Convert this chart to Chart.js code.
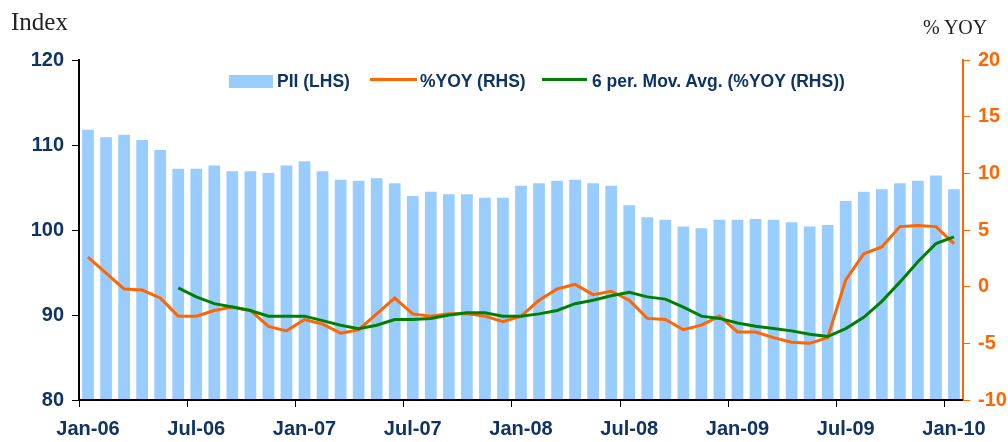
<!DOCTYPE html>
<html>
<head>
<meta charset="utf-8">
<script src="https://cdn.jsdelivr.net/npm/chart.js@4.4.0/dist/chart.umd.min.js"></script>
<style>
  body { margin: 0; background: #fff; }
  #wrap { position: relative; width: 1008px; height: 442px; }
  .ttl { position: absolute; font-family: "Liberation Serif", "Times New Roman", serif; color: #222; line-height: 1; white-space: nowrap; }
  .leg { position: absolute; font: bold 17.5px "Liberation Sans", Arial, sans-serif; color: #0e3364; line-height: 18px; top: 72px; white-space: nowrap; }
  .mark { position: absolute; }
</style>
</head>
<body>
<div id="wrap">
  <canvas id="myChart" width="1008" height="442"></canvas>
  <div class="ttl" style="left:11px;top:9px;font-size:25px;">Index</div>
  <div class="ttl" style="left:923px;top:17px;font-size:20px;">% YOY</div>
  <div class="mark" style="left:229px;top:75px;width:44px;height:13px;background:#99ccff;"></div>
  <div class="leg" style="left:277px;">PII (LHS)</div>
  <div class="mark" style="left:370px;top:78px;width:47px;height:3px;background:#ff6600;"></div>
  <div class="leg" style="left:420px;">%YOY (RHS)</div>
  <div class="mark" style="left:542px;top:78px;width:45px;height:3px;background:#008000;"></div>
  <div class="leg" style="left:592px;">6 per. Mov. Avg. (%YOY (RHS))</div>
</div>
<script>
const months = [
  "Jan-06","Feb-06","Mar-06","Apr-06","May-06","Jun-06","Jul-06","Aug-06","Sep-06","Oct-06","Nov-06","Dec-06",
  "Jan-07","Feb-07","Mar-07","Apr-07","May-07","Jun-07","Jul-07","Aug-07","Sep-07","Oct-07","Nov-07","Dec-07",
  "Jan-08","Feb-08","Mar-08","Apr-08","May-08","Jun-08","Jul-08","Aug-08","Sep-08","Oct-08","Nov-08","Dec-08",
  "Jan-09","Feb-09","Mar-09","Apr-09","May-09","Jun-09","Jul-09","Aug-09","Sep-09","Oct-09","Nov-09","Dec-09",
  "Jan-10"
];

// PII index, left axis
const piiIndex = [
  111.8,110.9,111.2,110.6,109.4,107.2,107.2,107.6,106.9,106.9,106.7,107.6,
  108.1,106.9,105.9,105.8,106.1,105.5,104.0,104.5,104.2,104.2,103.8,103.8,
  105.2,105.5,105.8,105.9,105.5,105.2,102.9,101.5,101.2,100.4,100.2,101.2,
  101.2,101.3,101.2,100.9,100.4,100.6,103.4,104.5,104.8,105.5,105.8,106.4,
  104.8
];

// % YoY, right axis
const yoyPct = [
  2.6,1.2,-0.2,-0.3,-1.0,-2.6,-2.6,-2.1,-1.8,-2.1,-3.5,-3.9,
  -2.9,-3.3,-4.1,-3.8,-2.4,-1.0,-2.4,-2.6,-2.4,-2.4,-2.6,-3.1,
  -2.6,-1.2,-0.2,0.2,-0.7,-0.4,-1.2,-2.8,-2.9,-3.8,-3.4,-2.6,
  -4.0,-4.0,-4.5,-4.9,-5.0,-4.5,0.6,2.9,3.5,5.3,5.4,5.3,
  3.8
];

// 6 period moving average of % YoY
const movAvgPct = [
  null,null,null,null,null,-0.1,-0.9,-1.5,-1.8,-2.1,-2.6,-2.6,
  -2.6,-3.0,-3.4,-3.7,-3.4,-2.9,-2.9,-2.8,-2.5,-2.3,-2.3,-2.6,
  -2.6,-2.4,-2.1,-1.5,-1.2,-0.8,-0.5,-0.9,-1.1,-1.8,-2.6,-2.8,
  -3.2,-3.5,-3.7,-3.9,-4.2,-4.4,-3.7,-2.7,-1.3,0.4,2.2,3.8,
  4.4
];

const navy = "#0e3364";
const orange = "#ff6600";
const tickFont = { family: "'Liberation Sans', Arial, sans-serif", size: 20, weight: "bold" };

// bars cover the bottom axis line, so draw it again on top
const axisOnTop = {
  id: "axisOnTop",
  afterDatasetsDraw(chart) {
    const a = chart.chartArea;
    const c = chart.ctx;
    c.save();
    c.strokeStyle = "#000";
    c.lineWidth = 2;
    c.beginPath();
    c.moveTo(a.left, a.bottom);
    c.lineTo(a.right, a.bottom);
    c.stroke();
    c.restore();
  }
};

new Chart(document.getElementById("myChart"), {
  data: {
    labels: months,
    datasets: [
      {
        type: "line",
        label: "6 per. Mov. Avg. (%YOY (RHS))",
        data: movAvgPct,
        yAxisID: "y1",
        borderColor: "#008000",
        borderWidth: 3,
        pointRadius: 0,
        tension: 0,
        order: 1
      },
      {
        type: "line",
        label: "%YOY (RHS)",
        data: yoyPct,
        yAxisID: "y1",
        borderColor: orange,
        borderWidth: 3,
        pointRadius: 0,
        tension: 0,
        order: 2
      },
      {
        type: "bar",
        label: "PII (LHS)",
        data: piiIndex,
        yAxisID: "y",
        backgroundColor: "#99ccff",
        categoryPercentage: 1,
        barPercentage: 0.65,
        order: 3
      }
    ]
  },
  options: {
    responsive: false,
    animation: false,
    layout: { padding: { top: 60, left: 0, right: 0, bottom: 0 } },
    plugins: { legend: { display: false }, tooltip: { enabled: false } },
    scales: {
      x: {
        offset: true,
        grid: {
          offset: true,
          drawOnChartArea: false,
          tickLength: 7,
          color: ctx => (ctx.index % 6 === 0 ? "#000" : "rgba(0,0,0,0)")
        },
        border: { color: "#000", width: 2 },
        ticks: {
          autoSkip: false,
          maxRotation: 0,
          padding: 10,
          color: navy,
          font: tickFont,
          callback: (v, i) => (i % 6 === 0 ? months[i] : "")
        },
        afterFit: s => { s.height = 42; }
      },
      y: {
        position: "left",
        min: 80,
        max: 120,
        grid: { drawOnChartArea: false, tickLength: 7, color: "#000" },
        border: { color: "#000", width: 2 },
        ticks: { stepSize: 10, padding: 8, color: navy, font: tickFont },
        afterFit: s => { s.width = 79; }
      },
      y1: {
        position: "right",
        min: -10,
        max: 20,
        grid: { drawOnChartArea: false, tickLength: 7, color: orange },
        border: { color: orange, width: 2 },
        ticks: { stepSize: 5, padding: 8, color: orange, font: tickFont },
        afterFit: s => { s.width = 45; }
      }
    }
  },
  plugins: [axisOnTop]
});
</script>
</body>
</html>
